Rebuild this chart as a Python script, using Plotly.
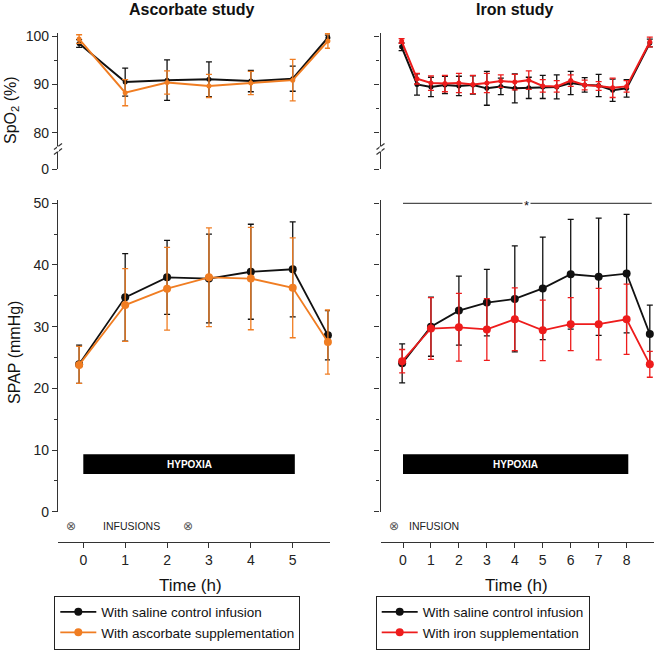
import plotly.graph_objects as go

# ---------------- data ----------------
asc_time = [-0.1, 1, 2, 3, 4, 5, 5.84]
asc_spo2_saline = [98.5, 90.5, 90.9, 91.1, 90.7, 91.2, 99.7]
asc_spo2_saline_err = [0.8, 2.9, 4.2, 3.6, 2.2, 2.6, 0.5]
asc_spo2_asc = [99.4, 88.3, 90.4, 89.7, 90.3, 90.9, 99.0]
asc_spo2_asc_err = [0.9, 2.7, 2.4, 2.4, 2.4, 4.3, 1.5]

asc_spap_saline = [23.9, 34.75, 38.0, 37.8, 38.9, 39.3, 28.6]
asc_spap_saline_err = [3.1, 7.1, 6.0, 7.2, 7.7, 7.7, 4.0]
asc_spap_asc = [23.8, 33.5, 36.15, 38.0, 37.8, 36.3, 27.5]
asc_spap_asc_err = [3.0, 5.9, 6.7, 8.0, 8.3, 8.1, 5.2]

iron_spo2_time = [-0.05, 0.5, 1, 1.5, 2, 2.5, 3, 3.5, 4, 4.5, 5, 5.5, 6, 6.5, 7, 7.5, 8, 8.83]
iron_spo2_saline = [97.8, 90.0, 89.5, 89.9, 89.7, 89.9, 89.2, 89.6, 89.2, 89.3, 89.5, 89.5,
                    90.3, 89.9, 89.8, 88.8, 89.2, 98.6]
iron_spo2_saline_err = [0.8, 2.2, 2.0, 1.8, 2.0, 1.9, 3.5, 1.7, 3.0, 2.2, 2.4, 2.5,
                        2.4, 1.5, 2.3, 2.3, 1.8, 0.8]
iron_spo2_iron = [99.0, 91.2, 90.3, 90.2, 90.3, 90.0, 90.3, 90.7, 90.5, 90.9, 89.7, 89.6,
                  90.8, 89.9, 89.7, 89.3, 89.6, 98.8]
iron_spo2_iron_err = [0.5, 1.1, 1.5, 1.7, 2.0, 1.9, 2.0, 1.3, 1.6, 1.9, 1.3, 1.2,
                      1.2, 1.0, 0.9, 2.0, 1.2, 1.0]

iron_spap_time = [-0.03, 1, 2, 3, 4, 5, 6, 7, 8, 8.83]
iron_spap_saline = [24.05, 30.0, 32.6, 33.9, 34.5, 36.2, 38.5, 38.1, 38.6, 28.8]
iron_spap_saline_err = [3.15, 4.8, 5.6, 5.4, 8.6, 8.3, 8.9, 9.5, 9.6, 4.7]
iron_spap_iron = [24.4, 29.7, 29.9, 29.55, 31.2, 29.4, 30.4, 30.4, 31.2, 23.9]
iron_spap_iron_err = [1.9, 5.0, 5.5, 5.0, 5.1, 4.9, 4.3, 5.8, 5.7, 2.1]

asc_ticks = [0, 1, 2, 3, 4, 5]
iron_ticks = [0, 1, 2, 3, 4, 5, 6, 7, 8]
spo2_tickvals = [72.5, 80, 90, 100]
spo2_ticktext = ["0", "80", "90", "100"]

asc_hypoxia = (0.0, 5.05)
iron_hypoxia = (0.0, 8.06)

BLACK = "#111111"
ORANGE = "#f07d22"
RED = "#ee1c1c"
FONT = "Arial, Liberation Sans, sans-serif"

fig = go.Figure()


def add(x, y, err, color, xa, ya, name, size, lw, legend=None):
    fig.add_trace(go.Scatter(
        x=x, y=y, mode="lines+markers", name=name,
        line=dict(color=color, width=lw),
        marker=dict(color=color, size=size),
        error_y=dict(type="data", array=err, color=color, thickness=1.3, width=3),
        xaxis=xa, yaxis=ya, cliponaxis=False,
        showlegend=legend is not None, legend=legend or "legend",
    ))


# top-left
add(asc_time, asc_spo2_saline, asc_spo2_saline_err, BLACK, "x", "y", "sal", 5, 2)
add(asc_time, asc_spo2_asc, asc_spo2_asc_err, ORANGE, "x", "y", "asc", 5, 2)
# top-right
add(iron_spo2_time, iron_spo2_saline, iron_spo2_saline_err, BLACK, "x2", "y2", "sal", 5, 2)
add(iron_spo2_time, iron_spo2_iron, iron_spo2_iron_err, RED, "x2", "y2", "iron", 5, 2)
# bottom-left
add(asc_time, asc_spap_saline, asc_spap_saline_err, BLACK, "x3", "y3",
    "With saline control infusion", 8, 1.8, "legend")
add(asc_time, asc_spap_asc, asc_spap_asc_err, ORANGE, "x3", "y3",
    "With ascorbate supplementation", 8, 1.8, "legend")
# bottom-right
add(iron_spap_time, iron_spap_saline, iron_spap_saline_err, BLACK, "x4", "y4",
    "With saline control infusion", 8, 1.8, "legend2")
add(iron_spap_time, iron_spap_iron, iron_spap_iron_err, RED, "x4", "y4",
    "With iron supplementation", 8, 1.8, "legend2")

W, H = 654, 651
LDOM = [58 / W, 330 / W]
RDOM = [380.5 / W, 1.0]
TOPDOM = [1 - 169 / H, 1 - 33 / H]
BOTDOM = [1 - 511.7 / H, 1 - 199.6 / H]
LRANGE = [-0.604, 5.89]
RRANGE = [-0.805, 8.98]

axfont = dict(family=FONT, size=14, color="#222")
yax_common = dict(showline=True, linecolor="#333", linewidth=1.2, ticks="outside",
                  ticklen=5, tickcolor="#333", tickwidth=1.2, showgrid=False,
                  zeroline=False, tickfont=axfont, automargin=False)
xax_common = dict(anchor="free", position=1 - 542.3 / H, showline=True,
                  linecolor="#333", linewidth=1.2, ticks="outside", ticklen=5,
                  tickcolor="#333", tickwidth=1.2, tickmode="array", showgrid=False,
                  zeroline=False, tickfont=axfont, automargin=False)

legend_common = dict(xanchor="left", yanchor="bottom", y=1 - 649.5 / H,
                     bordercolor="#222", borderwidth=1, bgcolor="white",
                     font=dict(family=FONT, size=13.5, color="#111"), tracegroupgap=0,
                     itemwidth=36)

fig.update_layout(
    template="none",
    width=W, height=H, margin=dict(l=0, r=0, t=0, b=0, pad=0, autoexpand=False),
    paper_bgcolor="white", plot_bgcolor="white",
    font=dict(family=FONT, color="#111"),
    xaxis=dict(domain=LDOM, range=LRANGE, visible=False, anchor="y", automargin=False),
    xaxis2=dict(domain=RDOM, range=RRANGE, visible=False, anchor="y2", automargin=False),
    xaxis3=dict(domain=LDOM, range=LRANGE, tickvals=asc_ticks, **xax_common),
    xaxis4=dict(domain=RDOM, range=RRANGE, tickvals=iron_ticks, **xax_common),
    yaxis=dict(domain=TOPDOM, range=[72.5, 100.66], anchor="x", tickmode="array",
               tickvals=spo2_tickvals, ticktext=spo2_ticktext,
               minor=dict(tickmode="array", tickvals=[85, 95], ticks="outside",
                          ticklen=3, tickcolor="#333"), **yax_common),
    yaxis2=dict(domain=TOPDOM, range=[72.5, 100.66], anchor="x2", tickmode="array",
                tickvals=spo2_tickvals, showticklabels=False,
                minor=dict(tickmode="array", tickvals=[85, 95], ticks="outside",
                           ticklen=3, tickcolor="#333"), **yax_common),
    yaxis3=dict(domain=BOTDOM, range=[0, 50.6], anchor="x3", tickmode="linear",
                tick0=0, dtick=10,
                minor=dict(dtick=5, ticks="outside", ticklen=3, tickcolor="#333"),
                **yax_common),
    yaxis4=dict(domain=BOTDOM, range=[0, 50.6], anchor="x4", tickmode="linear",
                tick0=0, dtick=10, showticklabels=False,
                minor=dict(dtick=5, ticks="outside", ticklen=3, tickcolor="#333"),
                **yax_common),
    legend=dict(x=54.3 / W, **legend_common),
    legend2=dict(x=375.7 / W, **legend_common),
)

shapes = []
# hypoxia bars
for xa, ya, (a, b) in (("x3", "y3", asc_hypoxia), ("x4", "y4", iron_hypoxia)):
    shapes.append(dict(type="rect", xref=xa, yref=ya, x0=a, x1=b, y0=6.1, y1=9.3,
                       fillcolor="black", line=dict(width=0), layer="below"))
# significance line
shapes.append(dict(type="line", xref="x4", yref="y4", x0=0, x1=8.9, y0=50, y1=50,
                   line=dict(color="#222", width=1)))
# axis break marks
for px in (58, 380.5):
    for py in (146.5, 151.5):
        shapes.append(dict(type="line", xref="paper", yref="paper",
                           x0=(px - 4) / W, x1=(px + 4) / W,
                           y0=1 - (py + 3) / H, y1=1 - (py - 3) / H,
                           line=dict(color="#333", width=1.2)))
    shapes.append(dict(type="line", xref="paper", yref="paper",
                       x0=px / W, x1=px / W, y0=1 - 151.5 / H, y1=1 - 146.5 / H,
                       line=dict(color="white", width=2)))
fig.update_layout(shapes=shapes)


def note(text, x, y, xref="paper", yref="paper", size=16, color="#111",
         family=FONT, xanchor="center", **kw):
    return dict(text=text, x=x, y=y, xref=xref, yref=yref, showarrow=False,
                xanchor=xanchor, yanchor="middle",
                font=dict(family=family, size=size, color=color), **kw)


ann = [
    note("<b>Ascorbate study</b>", 191 / W, 1 - 10 / H),
    note("<b>Iron study</b>", 514 / W, 1 - 10 / H),
    note("SpO<sub>2</sub> (%)", 11 / W, 1 - 110 / H, textangle=-90),
    note("SPAP (mmHg)", 15 / W, 1 - 353 / H, textangle=-90),
    note("Time (h)", 190 / W, 1 - 585 / H, size=17),
    note("Time (h)", 516.5 / W, 1 - 585 / H, size=17),
    note("<b>HYPOXIA</b>", sum(asc_hypoxia) / 2, 7.7, "x3", "y3", size=10, color="white"),
    note("<b>HYPOXIA</b>", sum(iron_hypoxia) / 2, 7.7, "x4", "y4", size=10, color="white"),
    note("*", 4.42, 49.7, "x4", "y4", size=13, bgcolor="white"),
]
yinf = 1 - 526 / H
ann += [
    note("⊗", -0.3, yinf, "x3", size=12, color="#555", family="DejaVu Sans"),
    note("⊗", 2.49, yinf, "x3", size=12, color="#555", family="DejaVu Sans"),
    note("INFUSIONS", 1.14, yinf, "x3", size=10.5, color="#222"),
    note("⊗", -0.32, yinf, "x4", size=12, color="#555", family="DejaVu Sans"),
    note("INFUSION", 0.15, yinf, "x4", size=10.5, color="#222", xanchor="left"),
]
fig.update_layout(annotations=ann)

fig.write_html("out.html", config={"displayModeBar": False},
               post_script="document.body.style.margin='0';"
                           "document.body.style.overflow='hidden';")
